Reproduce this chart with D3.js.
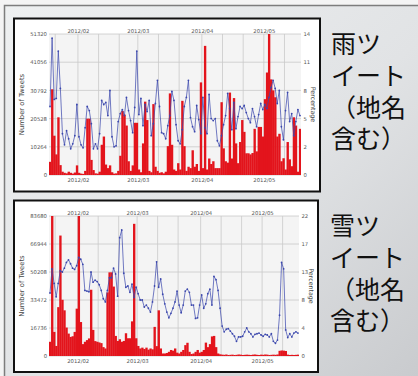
<!DOCTYPE html>
<html><head><meta charset="utf-8">
<script src="https://cdn.jsdelivr.net/npm/d3@7/dist/d3.min.js"></script>
<style>html,body{margin:0;padding:0;overflow:hidden;background:#fff}</style>
</head><body>
<svg id="c" width="418" height="376"></svg>
<script>
// ---------- data ----------
const firstDay = "2012-01-18";
const dayCount = 122;
const monthLabels = ["2012/02", "2012/03", "2012/04", "2012/05"];

const rainTitle = ["雨ツ", "イート", "（地名", "含む）"];
const snowTitle = ["雪ツ", "イート", "（地名", "含む）"];

const rainCountTicks = [0, 10264, 20528, 30792, 41056, 51320];
const rainPctMax = 14;
const rainPctLabels = ["0", "2", "5", "8", "11", "14"];

const snowCountTicks = [0, 16736, 33472, 50208, 66944, 83680];
const snowPctMax = 22;
const snowPctLabels = ["0", "4", "8", "13", "17", "22"];

const rainCounts = [
  4800, 31200, 14300, 7500, 21000, 3600, 1200, 800, 600, 1200,
  800, 500, 900, 3500, 800, 500, 400, 1500, 20500, 20500,
  5500, 1800, 600, 500, 1200, 11000, 14000, 3800, 2500, 3500,
  1000, 500, 600, 1500, 7000, 23300, 22000, 18000, 5000, 1500,
  3500, 19000, 19000, 2000, 1000, 11500, 26700, 20000, 1500, 1000,
  25800, 3000, 1500, 800, 1000, 600, 1200, 10500, 29700, 11000,
  2000, 1500, 4300, 2000, 27000, 10500, 1500, 3000, 2500, 9000,
  3000, 4000, 1500, 33700, 2500, 47000, 2000, 6000, 4000, 5000,
  2500, 2500, 2500, 26500, 9700, 5000, 4500, 30000, 6000, 28000,
  11500, 4300, 12000, 20000, 15700, 7900, 7900, 7500, 8000, 16800,
  8600, 17500, 17500, 14000, 27600, 37300, 51320, 34800, 30800, 28300,
  14000, 15000, 5000, 6100, 2000, 12000, 5700, 3200, 21000, 18000,
  1200, 16800
];
const rainPct = [
  6.8, 13.6, 7.5, 7.6, 12.3, 8.6, 4.1, 3.0, 4.4, 3.6,
  2.6, 3.1, 3.9, 7.0, 3.8, 3.0, 2.7, 4.7, 6.8, 6.4,
  5.1, 2.6, 3.1, 2.6, 4.1, 7.4, 7.0, 7.2, 5.9, 8.4,
  3.8, 2.8, 2.9, 5.3, 6.1, 6.5, 5.9, 7.7, 6.4, 5.4,
  4.2, 6.7, 12.3, 6.0, 7.6, 4.9, 7.0, 6.3, 7.4, 3.9,
  5.1, 7.1, 9.4, 6.8, 4.2, 4.1, 3.6, 4.9, 5.9, 8.3,
  7.4, 5.0, 3.4, 3.1, 4.5, 6.8, 7.7, 9.4, 5.7, 4.8,
  4.3, 6.9, 5.5, 4.1, 7.7, 4.7, 4.1, 8.0, 5.6, 5.4,
  5.6, 3.4, 2.9, 3.9, 5.0, 5.9, 8.1, 6.6, 4.5, 7.2,
  4.6, 5.8, 6.8, 6.6, 6.9, 6.2, 5.6, 5.2, 6.6, 5.8,
  4.8, 6.0, 7.1, 6.5, 7.0, 6.6, 7.7, 8.7, 9.4, 8.6,
  7.1, 8.4, 4.8, 3.5, 6.4, 8.2, 5.3, 6.1, 3.9, 5.3,
  6.5, 5.9
];

const snowCounts = [
  8500, 83680, 14400, 6000, 29200, 72000, 33600, 27300, 17000, 13400,
  11400, 11800, 14400, 28300, 83680, 20300, 7100, 8500, 9500, 10500,
  39600, 15600, 8900, 8500, 8100, 7700, 5300, 4500, 38000, 50000,
  50000, 41500, 12000, 9000, 10000, 8500, 9000, 13600, 10600, 10600,
  20700, 79000, 10600, 6000, 4500, 5000, 4200, 5000, 3800, 4500,
  4000, 17400, 5900, 27300, 4500, 1500, 1500, 1800, 2500, 3600,
  3200, 4500, 2000, 1500, 2500, 3600, 6500, 7900, 2500, 1200,
  1500, 2500, 3600, 2000, 2500, 3600, 8000, 5300, 7100, 11700,
  12000, 5300, 1500, 1000, 800, 700, 900, 600, 700, 800,
  600, 700, 900, 800, 600, 700, 800, 700, 600, 800,
  900, 700, 600, 800, 700, 900, 800, 600, 700, 800,
  700, 900, 3100, 3300, 3200, 3000, 800, 600, 700, 600,
  700, 800
];
const snowPct = [
  9.9, 13.7, 11.4, 9.3, 11.4, 13.4, 13.2, 13.8, 14.7, 15.1,
  14.5, 13.8, 13.6, 14.2, 15.5, 15.2, 14.4, 10.3, 10.2, 10.1,
  13.2, 11.6, 11.9, 11.7, 11.2, 10.3, 9.0, 8.5, 10.3, 12.3,
  12.3, 13.8, 12.9, 9.4, 18.6, 19.8, 13.0, 10.8, 11.0, 10.0,
  11.3, 9.2, 10.8, 9.8, 8.8, 8.8, 7.7, 8.0, 7.5, 6.9,
  8.5, 11.0, 14.8, 10.8, 12.1, 9.7, 8.2, 6.9, 6.0, 6.7,
  7.5, 8.5, 10.2, 8.0, 6.8, 8.0, 10.2, 10.5, 10.0, 8.0,
  8.0, 5.9, 6.0, 8.0, 9.6, 7.5, 8.2, 9.8, 10.5, 8.0,
  12.5, 12.0, 10.3, 7.5, 4.7, 3.8, 4.2, 4.3, 3.9, 3.5,
  3.1, 2.3, 3.0, 3.0, 3.1, 3.8, 4.4, 3.8, 3.5, 3.0,
  3.4, 3.5, 3.6, 3.3, 3.1, 3.4, 3.3, 3.0, 3.5, 2.3,
  2.0, 2.5, 6.4, 14.7, 13.7, 4.1, 2.9, 3.5, 3.0, 3.6,
  3.8, 3.6
];

// ---------- drawing ----------
const svg = d3.select("#c");
const W = 418, H = 376;
const defs = svg.append("defs");
const grad = defs.append("linearGradient").attr("id", "bg")
  .attr("x1", "0").attr("y1", "0").attr("x2", "1").attr("y2", "1");
grad.append("stop").attr("offset", "0").attr("stop-color", "#eef0f1");
grad.append("stop").attr("offset", "0.55").attr("stop-color", "#e1e3e5");
grad.append("stop").attr("offset", "1").attr("stop-color", "#c9cbce");

svg.append("rect").attr("width", W).attr("height", H).attr("fill", "#f4f4f4");
svg.append("rect").attr("x", 4).attr("y", 5).attr("width", W - 4).attr("height", H - 5).attr("fill", "url(#bg)");
svg.append("path").attr("d", `M4.5,${H}V5.5H${W}`).attr("fill", "none").attr("stroke", "#7d7d7d").attr("stroke-width", 1.5);

const parseDay = d3.timeParse("%Y-%m-%d");
const parseMonth = d3.timeParse("%Y/%m");
const start = parseDay(firstDay);
const days = d3.range(dayCount).map(i => d3.timeDay.offset(start, i));
const end = d3.timeDay.offset(start, dayCount);
const monthDates = monthLabels.map(parseMonth);
const gridDays = d3.timeDay.range(start, end).filter(d => [1, 11, 21].includes(d.getDate()));

const RED = "#e3141c", BLUE = "#3b47ad";
const smallFont = "DejaVu Sans, sans-serif";

function drawChart(cfg, id) {
  const p = cfg.panel;
  svg.append("rect").attr("x", p.x).attr("y", p.y).attr("width", p.w).attr("height", p.h)
    .attr("fill", "#fff").attr("stroke", "#111").attr("stroke-width", 2);

  const b = cfg.plot;
  const x = d3.scaleTime().domain([start, end]).range([b.x0, b.x1]);
  const yC = d3.scaleLinear().domain([0, cfg.countTicks[cfg.countTicks.length - 1]]).range([b.y1, b.y0]);
  const yP = d3.scaleLinear().domain([0, cfg.pctMax]).range([b.y1, b.y0]);

  const g = svg.append("g");
  g.append("rect").attr("x", b.x0).attr("y", b.y0).attr("width", b.x1 - b.x0).attr("height", b.y1 - b.y0)
    .attr("fill", "#f4f4f4");

  g.selectAll(".hg").data(cfg.countTicks).join("line")
    .attr("x1", b.x0).attr("x2", b.x1).attr("y1", d => yC(d)).attr("y2", d => yC(d))
    .attr("stroke", "#c9c9c9").attr("stroke-width", 0.8);
  g.selectAll(".vg").data(gridDays).join("line")
    .attr("x1", d => x(d)).attr("x2", d => x(d)).attr("y1", b.y0).attr("y2", b.y1)
    .attr("stroke", "#c9c9c9").attr("stroke-width", 0.8);

  defs.append("clipPath").attr("id", "clip" + id).append("rect")
    .attr("x", b.x0).attr("y", b.y0).attr("width", b.x1 - b.x0).attr("height", b.y1 - b.y0);
  const pg = g.append("g").attr("clip-path", `url(#clip${id})`);

  pg.selectAll("rect.bar").data(cfg.counts).join("rect").attr("class", "bar")
    .attr("x", (d, i) => x(days[i]))
    .attr("width", (d, i) => x(d3.timeDay.offset(days[i], 1)) - x(days[i]) + 0.3)
    .attr("y", d => yC(d))
    .attr("height", d => b.y1 - yC(d))
    .attr("fill", RED);

  const mid = i => x(d3.timeHour.offset(days[i], 12));
  const line = d3.line().x((d, i) => mid(i)).y(d => yP(d));
  pg.append("path").datum(cfg.pct).attr("d", line)
    .attr("fill", "none").attr("stroke", BLUE).attr("stroke-width", 0.8).attr("stroke-opacity", 0.9);
  pg.selectAll("circle").data(cfg.pct).join("circle")
    .attr("cx", (d, i) => mid(i)).attr("cy", d => yP(d)).attr("r", 0.9).attr("fill", BLUE);

  const styleAxis = sel => {
    sel.select(".domain").remove();
    sel.selectAll("text").attr("font-size", "5.3px").attr("fill", "#555").attr("font-family", smallFont);
  };
  g.append("g").attr("transform", `translate(${b.x0},0)`)
    .call(d3.axisLeft(yC).tickValues(cfg.countTicks).tickSize(0).tickPadding(2).tickFormat(d3.format("d")))
    .call(styleAxis);
  const pctVals = cfg.pctLabels.map((_, k) => cfg.pctMax * k / (cfg.pctLabels.length - 1));
  g.append("g").attr("transform", `translate(${b.x1},0)`)
    .call(d3.axisRight(yP).tickValues(pctVals).tickSize(0).tickPadding(2.5).tickFormat((d, i) => cfg.pctLabels[i]))
    .call(styleAxis);
  const fmt = d3.timeFormat("%Y/%m");
  g.append("g").attr("transform", `translate(0,${b.y0})`)
    .call(d3.axisTop(x).tickValues(monthDates).tickSize(0).tickPadding(1.5).tickFormat(fmt))
    .call(styleAxis);
  g.append("g").attr("transform", `translate(0,${b.y1})`)
    .call(d3.axisBottom(x).tickValues(monthDates).tickSize(0).tickPadding(3).tickFormat(fmt))
    .call(styleAxis);

  const cy = (b.y0 + b.y1) / 2;
  g.append("text").attr("transform", `translate(${b.x0 - 25},${cy}) rotate(-90)`)
    .attr("text-anchor", "middle").attr("font-size", "6.8px").attr("fill", "#444")
    .attr("font-family", smallFont).text("Number of Tweets");
  g.append("text").attr("transform", `translate(${b.x1 + 10},${cy}) rotate(90)`)
    .attr("text-anchor", "middle").attr("font-size", "6.3px").attr("fill", "#444")
    .attr("font-family", smallFont).text("Percentage");

  const t = svg.append("text").attr("x", cfg.titleX).attr("y", cfg.titleY)
    .attr("font-family", "Noto Sans CJK JP, sans-serif").attr("font-size", "25px")
    .attr("fill", "#111");
  t.selectAll("tspan").data(cfg.title).join("tspan")
    .attr("x", cfg.titleX).attr("dy", (d, i) => i === 0 ? 0 : 31.8).text(d => d);
}

drawChart({
  panel: { x: 14, y: 18.5, w: 306, h: 173 },
  plot: { x0: 49, x1: 301, y0: 34, y1: 175 },
  counts: rainCounts, pct: rainPct,
  countTicks: rainCountTicks, pctMax: rainPctMax, pctLabels: rainPctLabels,
  title: rainTitle, titleX: 331, titleY: 53
}, 1);

drawChart({
  panel: { x: 14, y: 200.5, w: 304, h: 171.5 },
  plot: { x0: 49, x1: 299, y0: 216, y1: 356 },
  counts: snowCounts, pct: snowPct,
  countTicks: snowCountTicks, pctMax: snowPctMax, pctLabels: snowPctLabels,
  title: snowTitle, titleX: 330, titleY: 235
}, 2);
</script>
</body></html>
